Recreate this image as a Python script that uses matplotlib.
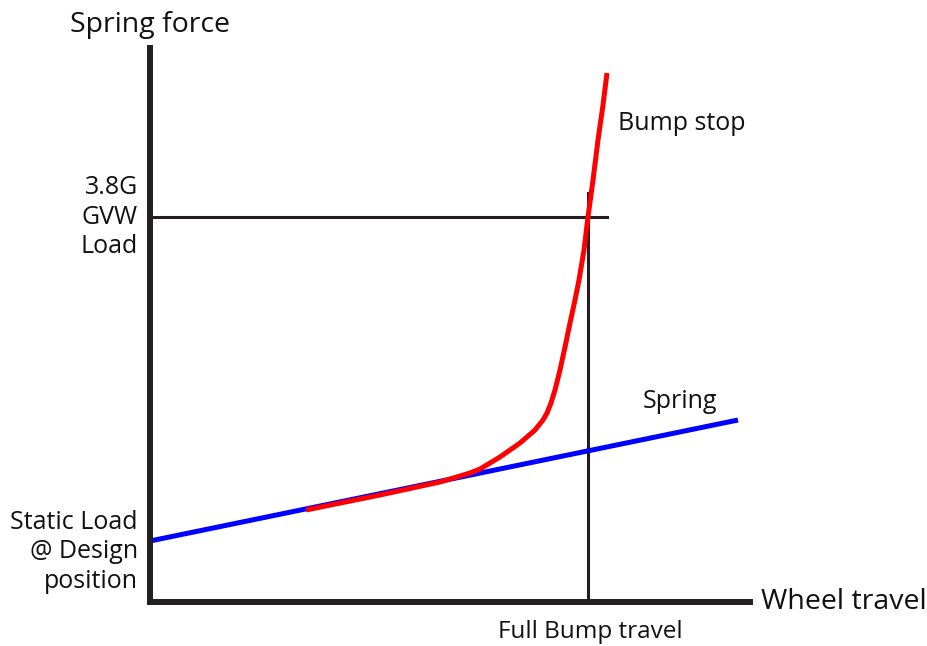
import matplotlib.pyplot as plt

# data units: wheel travel (x) and spring force (y), origin at the axes corner
spring_x = [0, 588]
spring_y = [61, 182]

bump_x = [156, 230, 290, 320, 330, 350, 370, 385, 393, 397, 401, 405, 410, 415, 420,
          425, 429, 434, 438, 443, 448, 453, 457]
bump_y = [92, 107, 120, 129, 133, 145, 159, 172, 182, 189, 199, 212, 232, 255, 279,
          302, 322, 352, 385, 422, 462, 497, 529]

full_bump_travel = 438
gvw_load = 385

plt.rcParams['font.family'] = ['Open Sans', 'DejaVu Sans']

fig = plt.figure(figsize=(9.27, 6.46), dpi=100)
ax = fig.add_axes([150 / 927, 44 / 646, 600 / 927, 554 / 646])
ax.set_xlim(0, 600)
ax.set_ylim(0, 554)

for side in ['top', 'right']:
    ax.spines[side].set_visible(False)
for side in ['left', 'bottom']:
    ax.spines[side].set_linewidth(4.3)
    ax.spines[side].set_color('#231f20')
    ax.spines[side].set_capstyle('projecting')
ax.set_xticks([])
ax.set_yticks([])

# reference lines
ax.plot([full_bump_travel, full_bump_travel], [0, 409], color='#231f20', lw=2.2, clip_on=False)
ax.plot([0, 457], [gvw_load, gvw_load], color='#231f20', lw=2.2, clip_on=False)

ax.plot(spring_x, spring_y, color='#0000ff', lw=3.6, solid_capstyle='butt', clip_on=False)
ax.plot(bump_x, bump_y, color='#ff0000', lw=3.6, solid_capstyle='butt',
        solid_joinstyle='round', clip_on=False)

ax.text(0, 577, 'Spring force', fontsize=20.5, ha='center', va='center', color='#111')
ax.text(694, 0, 'Wheel travel', fontsize=20.5, ha='center', va='center', color='#111')
ax.text(440, -30, 'Full Bump travel', fontsize=17.5, ha='center', va='center', color='#111')
ax.text(532, 479, 'Bump stop', fontsize=18, ha='center', va='center', color='#111')
ax.text(530, 201, 'Spring', fontsize=18, ha='center', va='center', color='#111')
ax.text(-12, 385, '3.8G\nGVW\nLoad', fontsize=18, ha='right', va='center',
        color='#111', linespacing=1.25)
ax.text(-12, 50, 'Static Load\n@ Design\nposition', fontsize=18, ha='right', va='center',
        color='#111', linespacing=1.25)

fig.savefig('out.png', dpi=100)
